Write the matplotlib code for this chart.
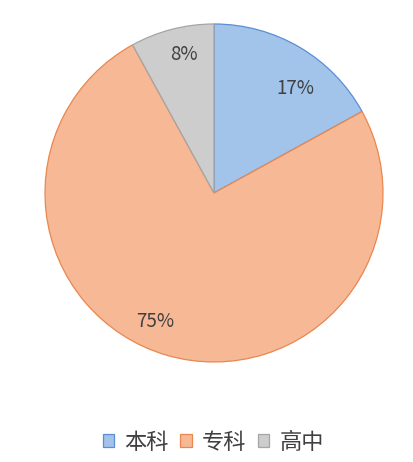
import matplotlib
matplotlib.use('Agg')
import matplotlib.pyplot as plt
import matplotlib.patches as patches

plt.rcParams['font.family'] = ['Noto Sans CJK SC', 'DejaVu Sans']

categories = ['本科', '专科', '高中']
shares = [17, 75, 8]
pct_labels = ['17%', '75%', '8%']

fill_colors = ['#a2c3ea', '#f6b895', '#cdcdcd']
edge_colors = ['#5b8fd3', '#e9874e', '#a5a5a5']
text_color = '#404040'

# label spots inside the pie (fraction of radius), as placed in the picture
label_pos = [(0.48, 0.62), (-0.35, -0.76), (-0.18, 0.82)]

fig = plt.figure(figsize=(4.14, 4.62), dpi=100)
ax = fig.add_axes([0.1087, 0.2165, 0.8164, 0.7316])
ax.set_aspect('equal')

wedges, _ = ax.pie(shares, colors=fill_colors, startangle=90, counterclock=False,
                   radius=1.0, wedgeprops=dict(linewidth=0.9))
for w, ec in zip(wedges, edge_colors):
    w.set_edgecolor(ec)

for lbl, (lx, ly) in zip(pct_labels, label_pos):
    ax.text(lx, ly, lbl, ha='center', va='center', fontsize=13.5, color=text_color)

ax.set_xlim(-1.0, 1.0)
ax.set_ylim(-1.0, 1.0)
ax.axis('off')

handles = [patches.Patch(facecolor=fc, edgecolor=ec, linewidth=0.9)
           for fc, ec in zip(fill_colors, edge_colors)]
leg = fig.legend(handles, categories, loc='center', bbox_to_anchor=(0.515, 0.043),
                 ncol=3, frameon=False, fontsize=16, handlelength=0.5,
                 handleheight=0.5, handletextpad=0.45, columnspacing=0.55)
for t in leg.get_texts():
    t.set_color(text_color)

fig.savefig('out.png', dpi=100)
